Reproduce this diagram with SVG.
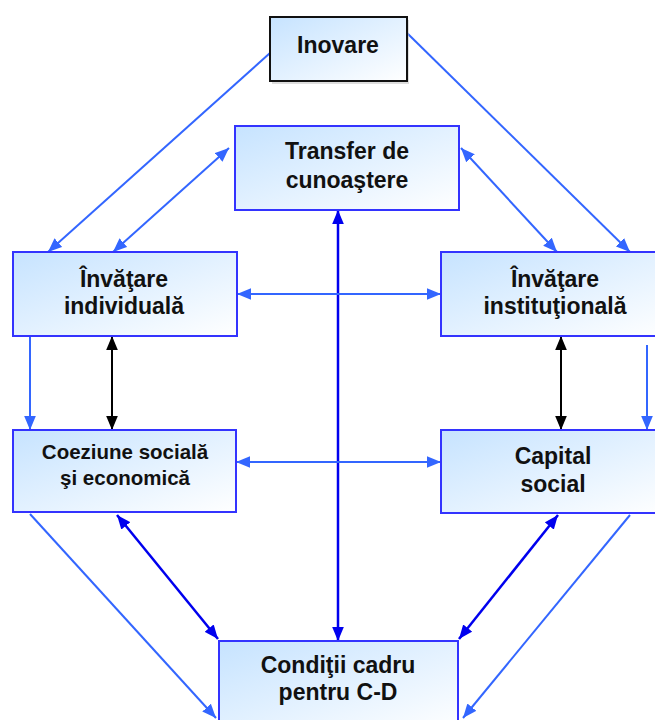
<svg xmlns="http://www.w3.org/2000/svg" width="655" height="720" viewBox="0 0 655 720">
<defs>
<linearGradient id="g" x1="0" y1="0" x2="1" y2="1">
<stop offset="0" stop-color="#c6e3ff"/>
<stop offset="1" stop-color="#ffffff"/>
</linearGradient>
<marker id="aL" viewBox="0 0 12 10" refX="12" refY="5" markerWidth="14" markerHeight="12" markerUnits="userSpaceOnUse" orient="auto-start-reverse"><path d="M0,0 L12,5 L0,10 z" fill="#3366ff"/></marker>
<marker id="aD" viewBox="0 0 12 10" refX="12" refY="5" markerWidth="14" markerHeight="12" markerUnits="userSpaceOnUse" orient="auto-start-reverse"><path d="M0,0 L12,5 L0,10 z" fill="#0000ee"/></marker>
<marker id="aK" viewBox="0 0 12 10" refX="12" refY="5" markerWidth="14" markerHeight="12" markerUnits="userSpaceOnUse" orient="auto-start-reverse"><path d="M0,0 L12,5 L0,10 z" fill="#000"/></marker>
</defs>
<style>
.box{fill:url(#g);stroke:#3333ff;stroke-width:2}
.bk{stroke:#111}
text{font-family:"Liberation Sans",Arial,sans-serif;font-weight:bold;font-size:23px;fill:#111;text-anchor:middle}
.sm{font-size:20.5px}
.l{stroke:#3366ff;stroke-width:2;fill:none}
.d{stroke:#0000ee;stroke-width:2.5;fill:none}
.k{stroke:#000;stroke-width:2;fill:none}
</style>
<g id="connectors">
<line class="l" x1="270" y1="53" x2="48" y2="252" marker-end="url(#aL)"/>
<line class="l" x1="407" y1="33" x2="630" y2="252" marker-end="url(#aL)"/>
<line class="l" x1="229" y1="148" x2="113" y2="252" marker-start="url(#aL)" marker-end="url(#aL)"/>
<line class="l" x1="461" y1="148" x2="557" y2="252" marker-start="url(#aL)" marker-end="url(#aL)"/>
<line class="d" x1="338" y1="210" x2="338" y2="641" marker-start="url(#aD)" marker-end="url(#aD)"/>
<line class="l" x1="237" y1="294" x2="441" y2="294" marker-start="url(#aL)" marker-end="url(#aL)"/>
<line class="l" x1="236" y1="462" x2="441" y2="462" marker-start="url(#aL)" marker-end="url(#aL)"/>
<line class="l" x1="30" y1="336" x2="30" y2="430" marker-end="url(#aL)"/>
<line class="k" x1="112" y1="336" x2="112" y2="430" marker-start="url(#aK)" marker-end="url(#aK)"/>
<line class="k" x1="561" y1="336" x2="561" y2="430" marker-start="url(#aK)" marker-end="url(#aK)"/>
<line class="l" x1="647" y1="345" x2="647" y2="430" marker-end="url(#aL)"/>
<line class="l" x1="30" y1="514" x2="216" y2="718" marker-end="url(#aL)"/>
<line class="d" x1="117" y1="515" x2="218" y2="639" marker-start="url(#aD)" marker-end="url(#aD)"/>
<line class="d" x1="558" y1="515" x2="459" y2="639" marker-start="url(#aD)" marker-end="url(#aD)"/>
<line class="l" x1="630" y1="515" x2="463" y2="718" marker-end="url(#aL)"/>
</g>
<g id="inovare">
<rect x="272" y="20" width="137" height="64" fill="#bbb" opacity="0.5"/>
<rect class="box bk" x="270" y="17" width="137" height="64"/>
<text x="338" y="53">Inovare</text>
</g>
<g id="transfer">
<rect class="box" x="235" y="126" width="224" height="84"/>
<text x="347" y="159">Transfer de</text>
<text x="347" y="188">cunoaştere</text>
</g>
<g id="invatare-individuala">
<rect class="box" x="13" y="252" width="224" height="84"/>
<text x="124" y="287">Învăţare</text>
<text x="124" y="314">individuală</text>
</g>
<g id="invatare-institutionala">
<rect class="box" x="441" y="252" width="228" height="84"/>
<text x="555" y="287">Învăţare</text>
<text x="555" y="314">instituţională</text>
</g>
<g id="coeziune">
<rect class="box" x="13" y="430" width="223" height="82"/>
<text class="sm" x="125" y="459">Coeziune socială</text>
<text class="sm" x="125" y="485">şi economică</text>
</g>
<g id="capital">
<rect class="box" x="441" y="430" width="228" height="83"/>
<text x="553" y="464">Capital</text>
<text x="553" y="492">social</text>
</g>
<g id="conditii">
<rect class="box" x="219" y="641" width="239" height="90"/>
<text x="338" y="673">Condiţii cadru</text>
<text x="338" y="700">pentru C-D</text>
</g>
</svg>
